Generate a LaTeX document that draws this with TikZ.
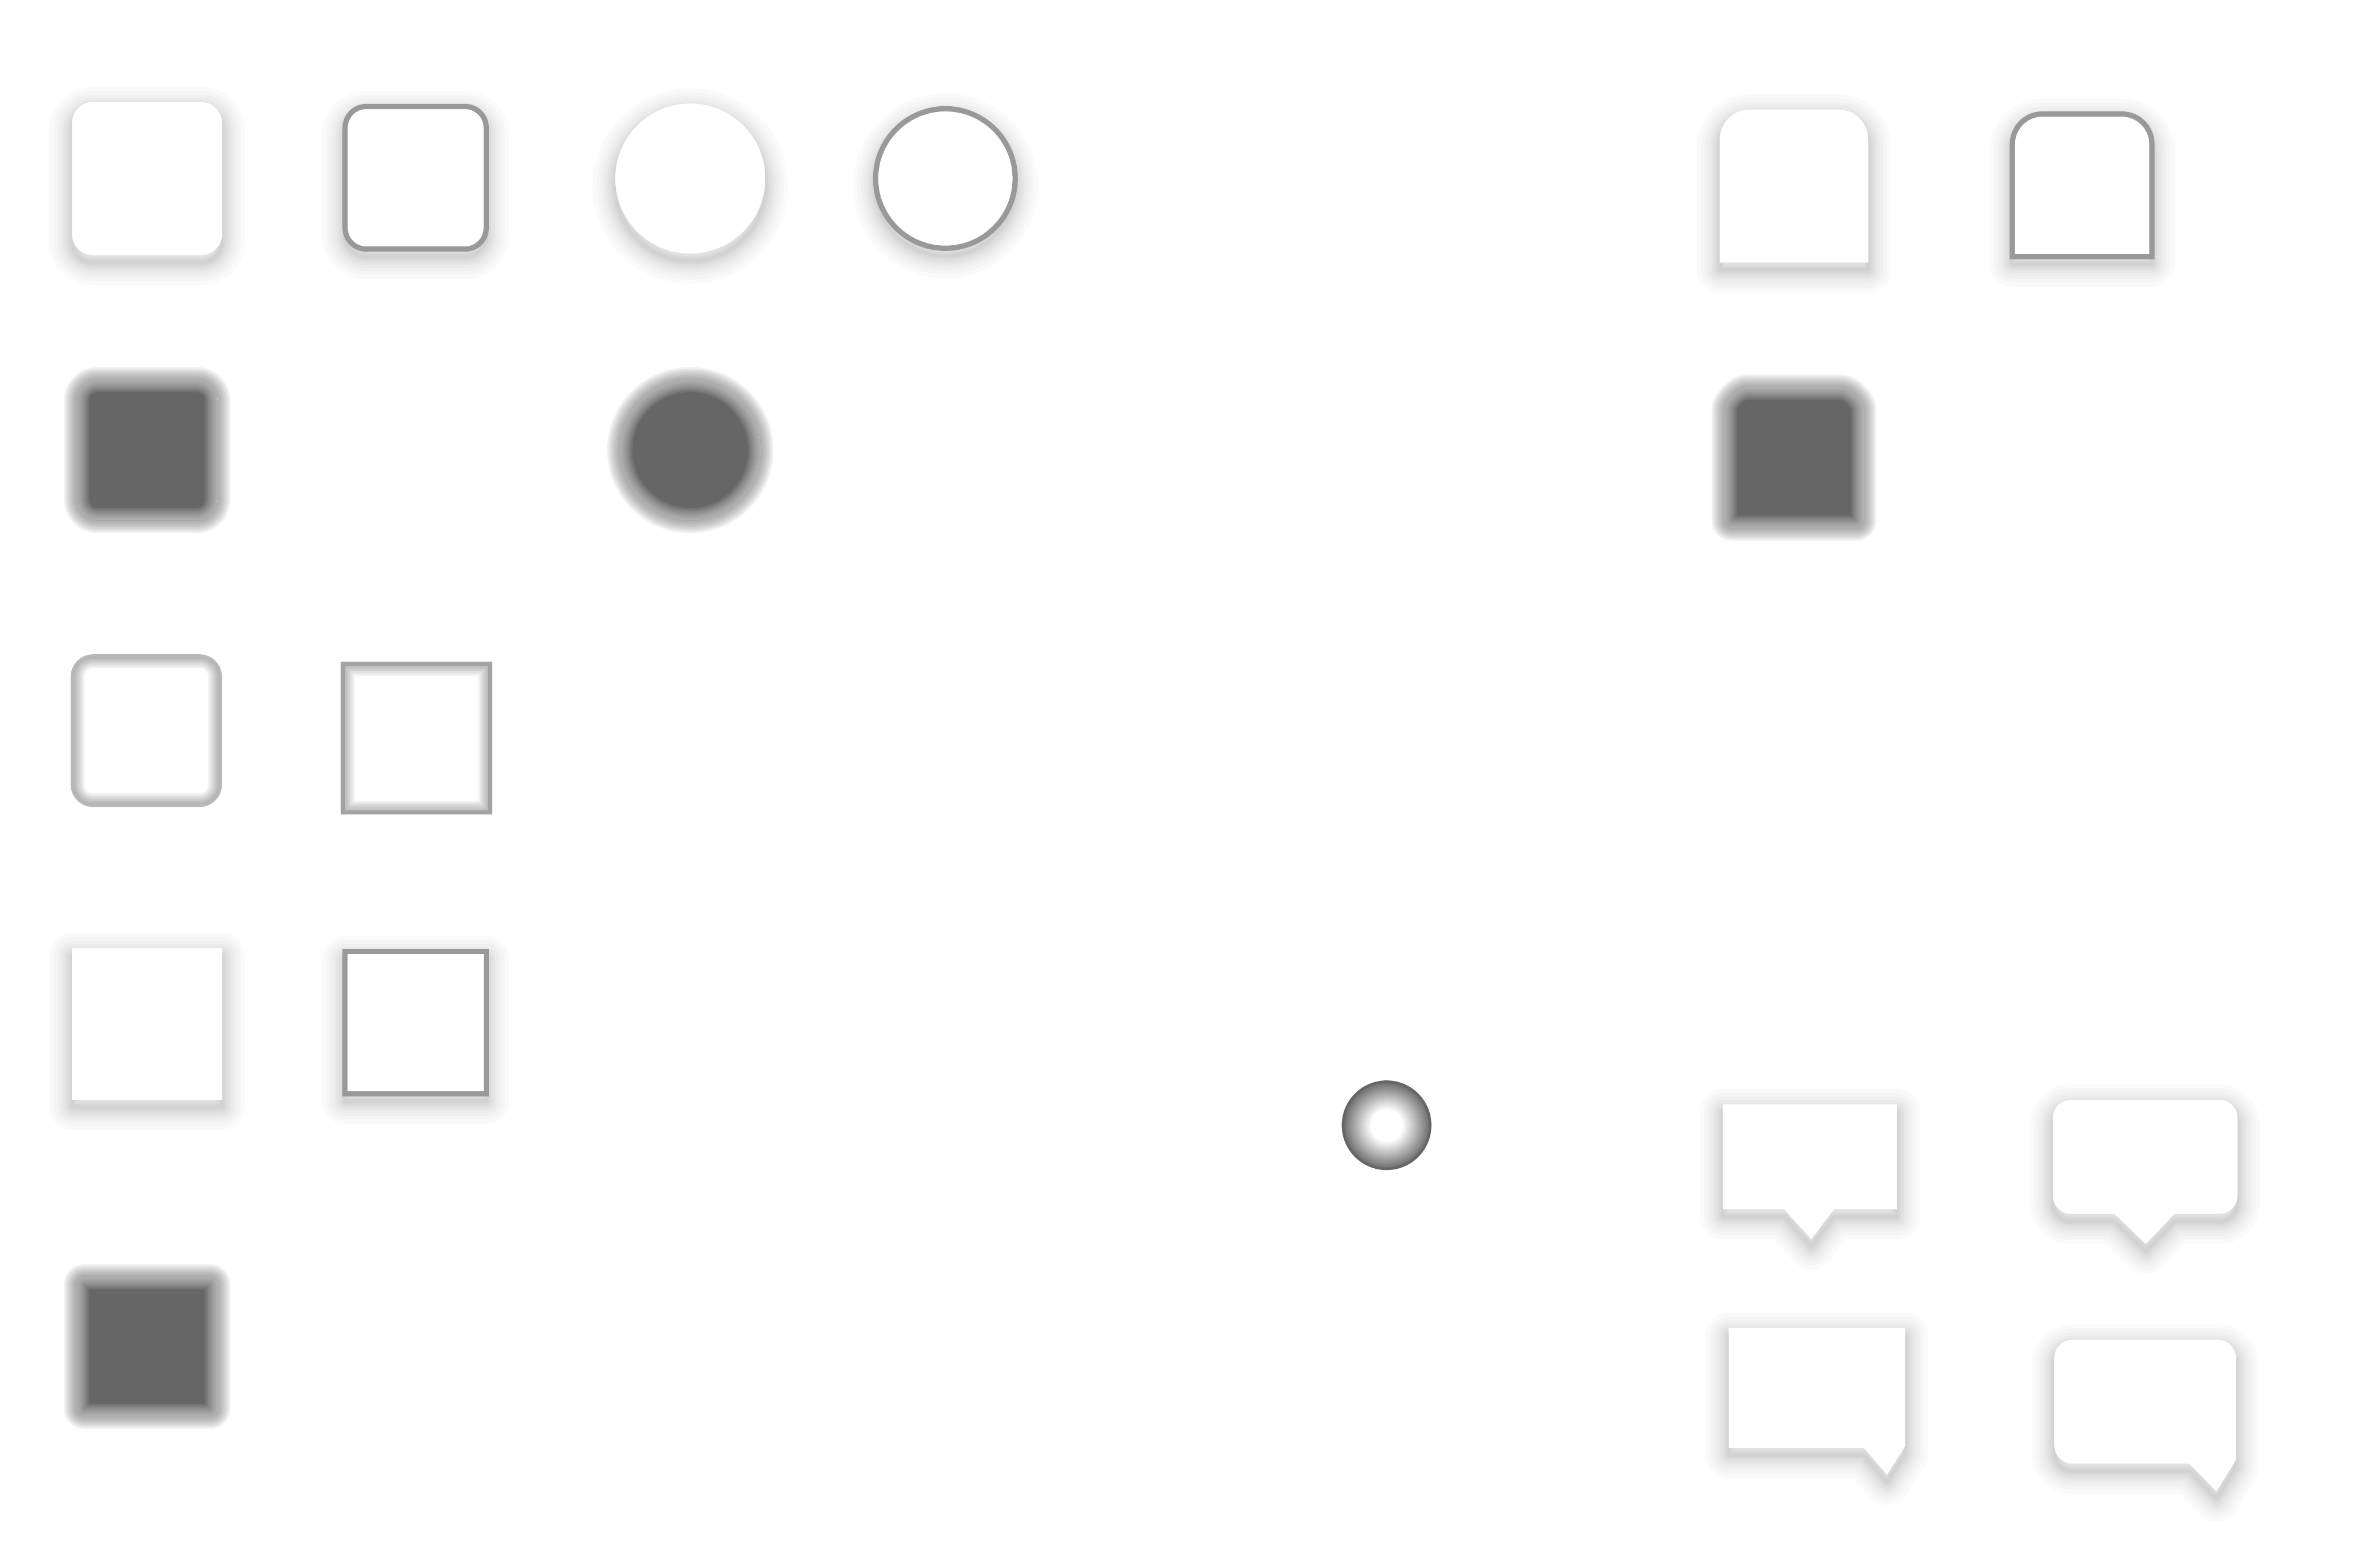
\documentclass[tikz,border=0pt]{standalone}
\usetikzlibrary{calc}
\definecolor{EdgeClr}{gray}{0.6}
\definecolor{BlurClr}{gray}{0.4}
\definecolor{LineClr}{gray}{0.72}
\pgfdeclareradialshading{ballshade}{\pgfpoint{0bp}{0bp}}{color(0bp)=(white); color(9bp)=(white); color(25bp)=(black!58); color(50bp)=(black!58)}

\newcommand{\softshadow}[1]{%
  \foreach \w in {0.6,1.2,1.8,2.6,3.4,4.4,5.6,7,8.6}
    \draw[black,opacity=.02,line width=\w pt,line join=round,yshift=-1.4pt] #1;}
\newcommand{\blurfill}[1]{%
  \foreach \w in {0.6,1.2,...,4.8}
    \draw[BlurClr,opacity=.083,line width=\w pt,line join=round] #1;
  \begin{scope}
    \clip #1;
    \fill[BlurClr] #1;
    \foreach \w in {0.6,1.2,...,4.8}
      \draw[white,opacity=.083,line width=\w pt,line join=round] #1;
  \end{scope}}
\newcommand{\insetshadow}[1]{%
  \begin{scope}
    \clip #1;
    \fill[white] #1;
    \foreach \w in {0.6,1.2,...,4.8}
      \draw[black,opacity=.042,line width=\w pt] #1;
  \end{scope}}
\newcommand{\tabpath}[4]{(#1,#2) -- (#1,#4-20) arc[start angle=180,end angle=90,radius=20] -- (#3-20,#4) arc[start angle=90,end angle=0,radius=20] -- (#3,#2) -- cycle}
\newcommand{\tippath}{(1380,312) -- (1479,312) arc[start angle=90,end angle=0,radius=12] -- (1491,248) arc[start angle=0,end angle=-90,radius=12] -- (1449,236) -- (1430,216) -- (1409,236) -- (1380,236) arc[start angle=270,end angle=180,radius=12] -- (1368,300) arc[start angle=180,end angle=90,radius=12] -- cycle}
\newcommand{\cornerpath}{(1381,152) -- (1478,152) arc[start angle=90,end angle=0,radius=12] -- (1490,72) -- (1477,51) -- (1459,69.5) -- (1381,69.5) arc[start angle=270,end angle=180,radius=12] -- (1369,140) arc[start angle=180,end angle=90,radius=12] -- cycle}

\tikzset{edged/.style={draw=EdgeClr,line width=1pt,fill=white},
  soft/.style={rounded corners=.14cm}}

\begin{document}
\begin{tikzpicture}[x=.01cm,y=.01cm]
\fill[white] (0,0) rectangle (1568,1045);
\useasboundingbox (0,0) rectangle (1568,1045);

% first row
\softshadow{[soft] (48,875) rectangle (148,977)}
\fill[white,soft] (48,875) rectangle (148,977);
\softshadow{[soft] (230,879) rectangle (324,974)}
\draw[edged,soft] (230,879) rectangle (324,974);
\softshadow{(460,926) circle[radius=50]}
\fill[white] (460,926) circle[radius=50];
\softshadow{(630,926) circle[radius=46.5]}
\draw[edged] (630,926) circle[radius=46.5];

% blurred ones
\blurfill{[soft] (51,698) rectangle (145,792)}
\blurfill{(460,745) circle[radius=47]}
\blurfill{[rounded corners=.05cm] (51,101) rectangle (145,194)}
\blurfill{[rounded corners=.05cm] \tabpath{1149}{693}{1242}{787}}

% inner shadow
\insetshadow{[soft] (48,508) rectangle (147,608)}
\draw[LineClr,line width=.5pt,soft] (48,508) rectangle (147,608);
\insetshadow{(228,503) rectangle (327,603)}
\draw[EdgeClr!90,line width=.8pt] (228.5,503.5) rectangle (326.5,602.5);

\softshadow{(48,312) rectangle (148,413)}
\fill[white] (48,312) rectangle (148,413);
\softshadow{(230,316) rectangle (324,411)}
\draw[edged] (230,316) rectangle (324,411);

% ball
\shade[shading=ballshade] (924,295) circle[radius=29];
\draw[black!60,line width=.5pt] (924,295) circle[radius=29];

% tabs
\softshadow{\tabpath{1146}{870}{1245}{972}}
\fill[white] \tabpath{1146}{870}{1245}{972};
\softshadow{\tabpath{1341}{874}{1434}{969}}
\draw[edged] \tabpath{1341}{874}{1434}{969};

% callouts
\softshadow{(1148,309) -- (1264,309) -- (1264,239) -- (1222,239) -- (1207,219) -- (1189,239) -- (1148,239) -- cycle}
\fill[white] (1148,309) -- (1264,309) -- (1264,239) -- (1222,239) -- (1207,219) -- (1189,239) -- (1148,239) -- cycle;
\softshadow{\tippath}
\fill[white] \tippath;
\softshadow{(1152,160) -- (1269.5,160) -- (1269.5,81) -- (1257.5,62) -- (1242,80) -- (1152,80) -- cycle}
\fill[white] (1152,160) -- (1269.5,160) -- (1269.5,81) -- (1257.5,62) -- (1242,80) -- (1152,80) -- cycle;
\softshadow{\cornerpath}
\fill[white] \cornerpath;
\end{tikzpicture}
\end{document}
